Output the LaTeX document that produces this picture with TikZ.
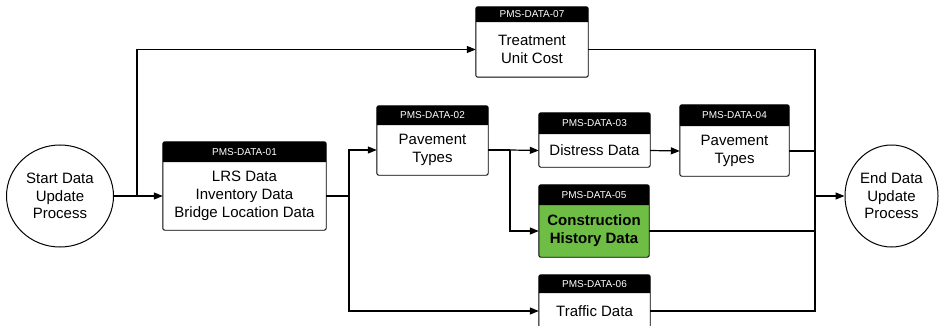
\documentclass[tikz,border=0pt]{standalone}
\usepackage{fontspec}
\setmainfont{Liberation Sans}
\usetikzlibrary{arrows.meta,shapes.geometric,backgrounds}

\definecolor{pmsgreen}{RGB}{110,189,68}

\tikzset{
  hdr/.style={inner sep=0pt, text=white, font=\fontsize{10}{12}\selectfont},
  body/.style={inner sep=0pt, align=center, font=\fontsize{15}{18}\selectfont},
  term/.style={ellipse, draw, line width=1pt, inner sep=0pt, align=center,
               font=\fontsize{15}{17.5}\selectfont},
  flow/.style={line width=1.2pt},
  arr/.style={flow, -{Triangle[length=9pt,width=7pt]}},
  frame/.style={draw, line width=0.9pt, rounded corners=2pt},
}

% #1 id, #2 left, #3 top, #4 header bottom, #5 right, #6 bottom,
% #7 header text, #8 body text, #9 body colour
\newcommand\pmsbox[9]{%
  \pgfmathsetmacro\pbx{(#2+#5)/2}%
  \pgfmathsetmacro\pbw{#5-#2}%
  \pgfmathsetmacro\pbhy{(#3+#4)/2}%
  \pgfmathsetmacro\pbhh{#4-#3}%
  \pgfmathsetmacro\pbby{(#4+#6)/2}%
  \pgfmathsetmacro\pbbh{#6-#4}%
  \node[hdr, minimum width=\pbw pt, minimum height=\pbhh pt] (h#1) at (\pbx,\pbhy) {#7};
  \node[body, minimum width=\pbw pt, minimum height=\pbbh pt] (b#1) at (\pbx,\pbby) {#8};
  \begin{scope}[on background layer]
    \fill[#9, rounded corners=2pt] (h#1.north west) rectangle (b#1.south east);
    \fill (h#1.south west) [rounded corners=2pt] -- (h#1.north west)
          -- (h#1.north east) [sharp corners] -- (h#1.south east) -- cycle;
    \path[frame] (h#1.north west) rectangle (b#1.south east);
  \end{scope}
}

\begin{document}
\begin{tikzpicture}[x=1pt, y=-1pt]
  \useasboundingbox (0,0) rectangle (939,326);

  % terminals
  \node[term, minimum width=107, minimum height=102] (s) at (60,196)
       {Start Data\\Update\\Process};
  \node[term, minimum width=93, minimum height=102] (e) at (891.5,196)
       {End Data\\Update\\Process};

  % data boxes
  \pmsbox{1}{163}{142}{162}{326}{230}{PMS-DATA-01}
         {LRS Data\\Inventory Data\\Bridge Location Data}{white}
  \pmsbox{2}{377}{106}{125}{488}{175}{PMS-DATA-02}{Pavement\\Types}{white}
  \pmsbox{3}{539}{113}{134}{650}{167}{PMS-DATA-03}{Distress Data}{white}
  \pmsbox{4}{680}{105}{126}{789}{176}{PMS-DATA-04}{Pavement\\Types}{white}
  \pmsbox{5}{539}{185}{205}{649}{257}{PMS-DATA-05}
         {\textbf{Construction}\\\textbf{History Data}}{pmsgreen}
  \pmsbox{6}{539}{275}{293}{650}{329}{PMS-DATA-06}{Traffic Data}{white}
  \pmsbox{7}{476}{7}{22}{588}{77}{PMS-DATA-07}{Treatment\\Unit Cost}{white}

  % junction points
  \coordinate (j0) at (137,196);
  \coordinate (j1) at (349,196);
  \coordinate (j2) at (510,150);
  \coordinate (bus) at (815,0);

  % connectors
  \draw[arr] (s.east) -- (b1.west);
  \draw[arr] (j0) |- (b7.west);
  \draw[flow] (b1.east) -- (j1);
  \draw[arr] (j1) |- (b2.west);
  \draw[arr] (j1) |- (b6.west);
  \draw[flow] (b2.east) -- (j2);
  \draw[arr] (j2) -- (b3.west);
  \draw[arr] (j2) |- (b5.west);
  \draw[arr] (b3.east) -- (b4.west);
  \draw[flow] (b7.east) -| (bus |- b6.east) -- (b6.east);
  \draw[flow] (b4.east) -- (bus |- b4.east);
  \draw[flow] (b5.east) -- (bus |- b5.east);
  \draw[arr] (bus |- e.west) -- (e.west);
\end{tikzpicture}
\end{document}
